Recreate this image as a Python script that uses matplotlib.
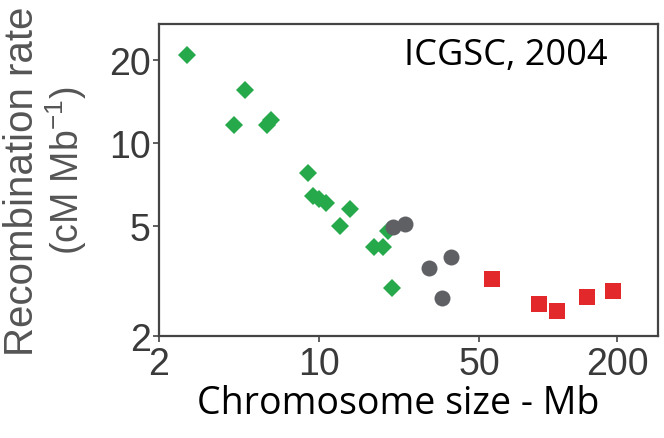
import matplotlib
matplotlib.use("Agg")
import matplotlib.pyplot as plt
from matplotlib.ticker import FixedLocator, NullLocator

plt.rcParams['mathtext.fontset'] = 'custom'
plt.rcParams['mathtext.rm'] = 'Liberation Sans'
plt.rcParams['mathtext.default'] = 'regular'

# microchromosomes (green), intermediate (gray), macrochromosomes (red)
micro_size = [2.64, 4.75, 4.25, 5.9, 6.15, 8.9, 9.45, 9.95, 10.7, 13.6, 12.4, 17.3, 19.1, 19.9, 20.8]
micro_rate = [20.8, 15.6, 11.6, 11.6, 12.1, 7.8, 6.45, 6.25, 6.05, 5.75, 5.0, 4.2, 4.2, 4.8, 2.98]
inter_size = [21.1, 23.7, 30.3, 37.6, 34.3]
inter_rate = [4.95, 5.1, 3.52, 3.88, 2.75]
macro_size = [57, 91, 109, 148, 192]
macro_rate = [3.22, 2.61, 2.46, 2.76, 2.92]

xticks = [2, 10, 50, 200]
yticks = [2, 5, 10, 20]

fig = plt.figure(figsize=(6.64, 4.39), dpi=100)
ax = fig.add_axes([0.2395, 0.2323, 0.7515, 0.7107])

ax.plot(micro_size, micro_rate, 'D', color='#25a94b', markersize=9, markeredgewidth=0)
ax.plot(inter_size, inter_rate, 'o', color='#5e6064', markersize=11.5, markeredgewidth=0)
ax.plot(macro_size, macro_rate, 's', color='#e3282c', markersize=11, markeredgewidth=0)

ax.set_xscale('log')
ax.set_yscale('log')
ax.set_xlim(2, 302)
ax.set_ylim(2, 27)

ax.xaxis.set_major_locator(FixedLocator(xticks))
ax.yaxis.set_major_locator(FixedLocator(yticks))
ax.xaxis.set_minor_locator(NullLocator())
ax.yaxis.set_minor_locator(NullLocator())
ax.set_xticklabels([str(v) for v in xticks])
ax.set_yticklabels([str(v) for v in yticks])

for lab in ax.get_xticklabels() + ax.get_yticklabels():
    lab.set_fontfamily('Liberation Sans')
    lab.set_fontsize(27)
    lab.set_color('#3a3a3a')
ax.tick_params(axis='both', length=4, width=1.2, color='#444444')
ax.tick_params(axis='y', pad=2)
ax.tick_params(axis='x', pad=3)

for sp in ax.spines.values():
    sp.set_color('#444444')
    sp.set_linewidth(1.6)

ax.text(0.695, 0.9, 'ICGSC, 2004', transform=ax.transAxes, ha='center', va='center',
        fontfamily='Open Sans', fontsize=26, color='black')

fig.text(0.033, 0.588, 'Recombination rate', rotation=90, ha='center', va='center',
         fontfamily='Liberation Sans', fontsize=29, color='#555555')
fig.text(0.099, 0.612, '(cM Mb$^{-1}$)', rotation=90, ha='center', va='center',
         fontfamily='Liberation Sans', fontsize=27, color='#555555')

fig.text(0.6, 0.08, 'Chromosome size - Mb', ha='center', va='center',
         fontfamily='Open Sans', fontsize=27, color='black')

fig.savefig('out.png', dpi=100)
